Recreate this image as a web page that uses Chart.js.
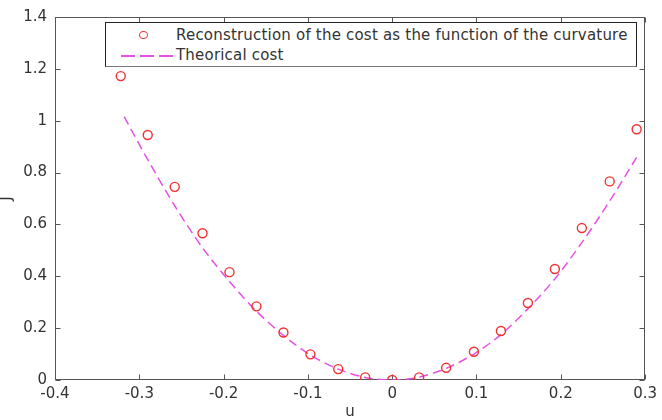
<!DOCTYPE html>
<html>
<head>
<meta charset="utf-8">
<script src="https://cdn.jsdelivr.net/npm/chart.js@4"></script>
<style>
  body { margin: 0; background: #fff; }
  #wrap { position: relative; width: 662px; height: 420px; }
  canvas { display: block; }
  #legend {
    position: absolute; left: 105px; top: 22px; width: 530px; height: 43px;
    border: 1px solid #222; border-bottom-color: #777; background: #fff;
    font: 15px 'DejaVu Sans', sans-serif; color: #333; letter-spacing: 0.2px;
  }
  #legend .row { position: absolute; left: 0; height: 18px; line-height: 18px; white-space: nowrap; }
  #legend .lbl { position: absolute; left: 70px; top: 0; }
  #legend .mk { position: absolute; left: 33px; top: 5px; width: 7px; height: 6px; border: 1.4px solid #f03030; border-radius: 50%; }
  #legend .ln { position: absolute; left: 15px; top: 9px; width: 52px; height: 1.5px;
    background: repeating-linear-gradient(to right, #e650e6 0 14px, transparent 14px 19px); }
</style>
</head>
<body>
<div id="wrap">
  <canvas id="chart" width="662" height="420"></canvas>
  <div id="legend">
    <div class="row" style="top:3px"><span class="mk"></span><span class="lbl">Reconstruction of the cost as the function of the curvature</span></div>
    <div class="row" style="top:23px"><span class="ln"></span><span class="lbl">Theorical cost</span></div>
  </div>
</div>
<script>
// values
const uPoints = [-0.322, -0.290, -0.258, -0.225, -0.193, -0.161, -0.129, -0.097, -0.064, -0.032, 0,
                 0.032, 0.064, 0.097, 0.129, 0.161, 0.193, 0.225, 0.258, 0.290];
const jReconstructed = [1.172, 0.945, 0.745, 0.566, 0.416, 0.284, 0.183, 0.099, 0.042, 0.010, 0.000,
                        0.010, 0.047, 0.109, 0.189, 0.297, 0.428, 0.586, 0.766, 0.967];
const uTheory = [-0.318, -0.290, -0.258, -0.225, -0.193, -0.161, -0.129, -0.097, -0.064, -0.032, 0,
                 0.032, 0.064, 0.097, 0.129, 0.161, 0.193, 0.225, 0.258, 0.290];
const jTheory = [1.016, 0.850, 0.672, 0.510, 0.380, 0.265, 0.172, 0.096, 0.042, 0.010, 0.000,
                 0.011, 0.045, 0.100, 0.175, 0.275, 0.390, 0.530, 0.690, 0.859];
const xTicks = [-0.4, -0.3, -0.2, -0.1, 0, 0.1, 0.2, 0.3];
const yTicks = [0, 0.2, 0.4, 0.6, 0.8, 1, 1.2, 1.4];

Chart.defaults.font.family = "'DejaVu Sans', sans-serif";
Chart.defaults.font.size = 15;
Chart.defaults.color = '#333';

const toXY = (xs, ys) => xs.map((x, i) => ({ x, y: ys[i] }));
const fmt = v => String(+Number(v).toFixed(2));

// MATLAB-like box with inward ticks on all four sides
const frame = {
  id: 'frame',
  beforeDatasetsDraw(chart) {
    const { ctx, chartArea: a, scales: { x, y } } = chart;
    ctx.save();
    ctx.strokeStyle = '#555';
    ctx.lineWidth = 1;
    const L = Math.round(a.left) + 0.5, R = Math.round(a.right) - 0.5;
    const T = Math.round(a.top) + 0.5, B = Math.round(a.bottom) - 0.5;
    ctx.strokeRect(L, T, R - L, B - T);
    ctx.beginPath();
    for (const v of xTicks) {
      const px = Math.round(x.getPixelForValue(v)) + 0.5;
      ctx.moveTo(px, B); ctx.lineTo(px, B - 5);
      ctx.moveTo(px, T); ctx.lineTo(px, T + 5);
    }
    for (const v of yTicks) {
      const py = Math.round(y.getPixelForValue(v)) + 0.5;
      ctx.moveTo(L, py); ctx.lineTo(L + 5, py);
      ctx.moveTo(R, py); ctx.lineTo(R - 5, py);
    }
    ctx.stroke();
    ctx.restore();
  }
};

new Chart(document.getElementById('chart'), {
  type: 'scatter',
  data: {
    datasets: [
      {
        label: 'Reconstruction of the cost as the function of the curvature',
        data: toXY(uPoints, jReconstructed),
        showLine: false,
        pointStyle: 'circle',
        pointRadius: 4.5,
        pointBorderWidth: 1.4,
        borderColor: '#f03030',
        backgroundColor: 'rgba(0,0,0,0)'
      },
      {
        label: 'Theorical cost',
        data: toXY(uTheory, jTheory),
        showLine: true,
        pointRadius: 0,
        borderColor: '#e650e6',
        borderWidth: 1.5,
        borderDash: [9, 5],
        tension: 0.3,
        fill: false
      }
    ]
  },
  options: {
    responsive: false,
    animation: false,
    layout: { padding: { top: 15, right: 15, left: 0, bottom: 0 } },
    plugins: { legend: { display: false }, tooltip: { enabled: false } },
    scales: {
      x: {
        type: 'linear', min: -0.4, max: 0.3,
        grid: { display: false, drawTicks: false },
        border: { display: false },
        afterBuildTicks: s => { s.ticks = xTicks.map(v => ({ value: v })); },
        afterFit: s => { s.height = 40; },
        ticks: { padding: 5, callback: fmt, maxRotation: 0 },
        title: { display: true, text: 'u', padding: { top: 0, bottom: 0 }, font: { lineHeight: 1 } }
      },
      y: {
        type: 'linear', min: 0, max: 1.4,
        grid: { display: false, drawTicks: false },
        border: { display: false },
        afterBuildTicks: s => { s.ticks = yTicks.map(v => ({ value: v })); },
        afterFit: s => { s.width = 55; },
        ticks: { padding: 8, callback: fmt },
        title: { display: true, text: 'J', padding: { top: 0, bottom: 0 }, font: { lineHeight: 1 } }
      }
    }
  },
  plugins: [frame]
});
</script>
</body>
</html>
